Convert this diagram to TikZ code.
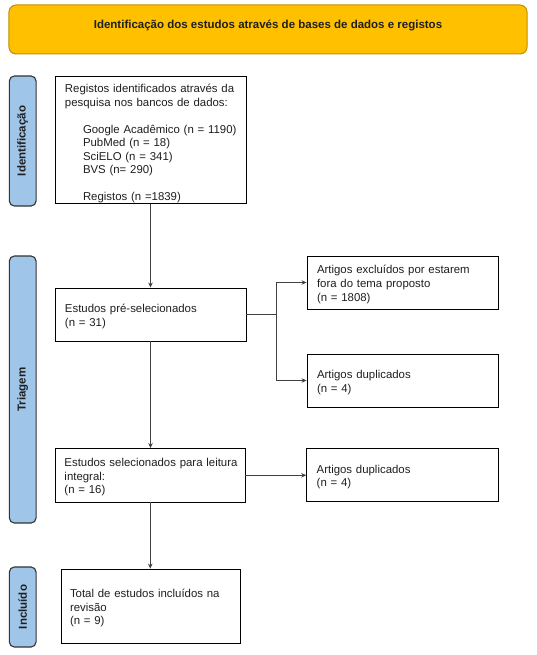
\documentclass[tikz,border=0pt]{standalone}
\usepackage{fontspec}
\setmainfont{Liberation Sans}
\usetikzlibrary{arrows.meta}
\definecolor{bannerfill}{HTML}{FFC000}
\definecolor{bannerdraw}{HTML}{BF9000}
\definecolor{barfill}{HTML}{9FC5E8}
\definecolor{bardraw}{HTML}{333333}
\definecolor{txt}{HTML}{1F1F1F}
\definecolor{linec}{HTML}{404040}
\begin{document}
\begin{tikzpicture}[x=1bp,y=-1bp,
  boxstyle/.style={draw=black, line width=0.9bp, fill=white, text=txt,
    font=\fontsize{11.4bp}{13.6bp}\selectfont, align=left,
    inner ysep=0pt, inner xsep=10bp, anchor=center,
    execute at begin node={\rule{0pt}{12.2bp}}},
  sidebar/.style={draw=bardraw, line width=1.1bp, fill=barfill,
    rounded corners=5bp, rotate=90,
    font=\bfseries\fontsize{11.5bp}{13bp}\selectfont, text=txt,
    inner sep=0pt, minimum height=26.7bp},
  arr/.style={draw=linec, line width=0.9bp, -{Stealth[length=5bp,width=4.5bp]}},
  ln/.style={draw=linec, line width=0.9bp}]
\useasboundingbox (0,0) rectangle (537,655);

% banner
\node[draw=bannerdraw, line width=1bp, fill=bannerfill, rounded corners=7bp,
  minimum width=518bp, minimum height=49bp, inner sep=0pt] (banner) at (268,29.5) {};
\node[font=\bfseries\fontsize{11.5bp}{13bp}\selectfont, text=txt, inner sep=0pt]
  (bannertext) at (268,25.5) {Identificação dos estudos através de bases de dados e registos};

% side bars
\node[sidebar, minimum width=130bp] (s1) at (22.7,141) {Identificação};
\node[sidebar, minimum width=267bp] (s2) at (22.7,389.5) {Triagem};
\node[sidebar, minimum width=80bp] (s3) at (22.7,607) {Incluído};

% main boxes
\node[boxstyle, minimum width=191bp, minimum height=126bp, text width=171bp,
  font=\fontsize{11.4bp}{13.5bp}\selectfont,
  execute at begin node={\rule{0pt}{16.2bp}}]
  (b1) at (150.5,140) {\mbox{Registos identificados através da}\\
  \mbox{pesquisa nos bancos de dados:}\\[13.5bp]
  \mbox{\hspace*{18bp}Google Acadêmico (n = 1190)}\\
  \mbox{\hspace*{18bp}PubMed (n = 18)}\\
  \mbox{\hspace*{18bp}SciELO (n = 341)}\\
  \mbox{\hspace*{18bp}BVS (n= 290)}\\[13.5bp]
  \mbox{\hspace*{18bp}Registos (n =1839)}};
\node[boxstyle, minimum width=191bp, minimum height=53bp, text width=171bp]
  (b2) at (150.5,314.5) {Estudos pré-selecionados\\(n = 31)};
\node[boxstyle, inner xsep=9bp, minimum width=189.5bp, minimum height=53.5bp, text width=171.5bp]
  (b3) at (150.25,475.25) {\mbox{Estudos selecionados para leitura}\\integral:\\(n = 16)};
\node[boxstyle, inner xsep=9bp, minimum width=179.7bp, minimum height=74.3bp, text width=161.7bp]
  (b4) at (150.85,606.15) {\mbox{Total de estudos incluídos na}\\revisão\\(n = 9)};

% right boxes
\node[boxstyle, minimum width=191bp, minimum height=53bp, text width=171bp]
  (r1) at (402.5,282.5) {\mbox{Artigos excluídos por estarem}\\fora do tema proposto\\(n = 1808)};
\node[boxstyle, minimum width=191bp, minimum height=53bp, text width=171bp]
  (r2) at (402.5,380.5) {Artigos duplicados\\(n = 4)};
\node[boxstyle, minimum width=191.6bp, minimum height=53.4bp, text width=171.6bp]
  (r3) at (402.5,475) {Artigos duplicados\\(n = 4)};

% connectors
\draw[arr] (b1) -- (b2);
\draw[arr] (b2.south) -- (b2.south |- b3.north);
\draw[arr] (b3.south) -- (b3.south |- b4.north);
\coordinate (j1) at (276,314.5);
\draw[ln] (b2.east) -- (j1);
\draw[arr] (j1) |- (r1.west);
\draw[arr] (j1) |- (r2.west);
\draw[arr] (b3.east) -- (b3.east -| r3.west);
\end{tikzpicture}
\end{document}
